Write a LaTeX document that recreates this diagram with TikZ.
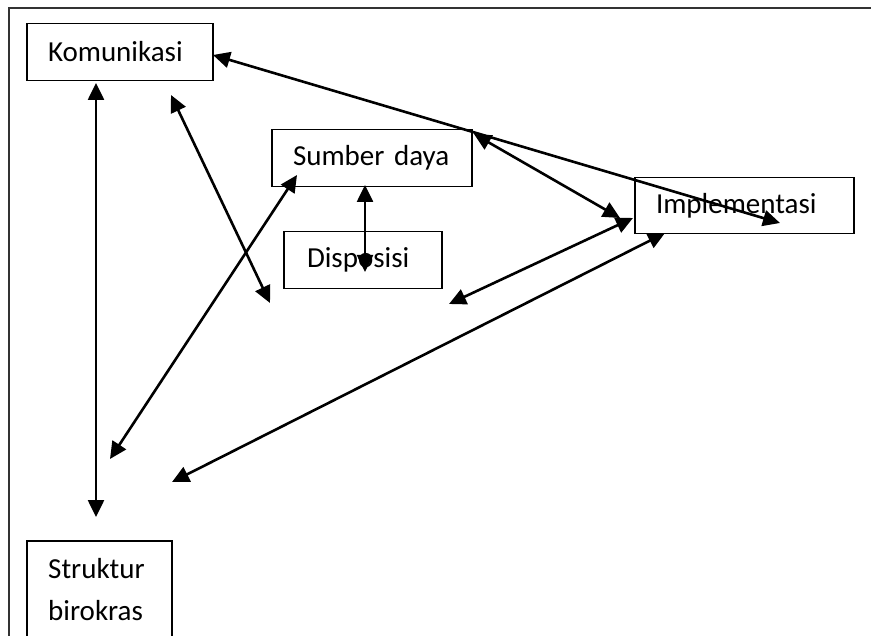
\documentclass[tikz,border=0pt]{standalone}
\usepackage{fontspec}
\setmainfont{Carlito}
\usetikzlibrary{arrows.meta}
\begin{document}
\begin{tikzpicture}[x=1pt,y=-1pt,
  lbl/.style={font=\fontsize{29}{42}\selectfont, align=left, inner xsep=21pt, inner ysep=0pt},
  box/.style={lbl, draw, line width=1.6pt},
  link/.style={line width=2.6pt, {Triangle[length=17pt,width=16pt]}-{Triangle[length=17pt,width=16pt]}}]
\clip (0,0) rectangle (871,636);
\fill[white] (0,0) rectangle (871,636);
\draw[line width=2pt, black!80] (9,640) -- (9,8) -- (875,8);
% boxes
\node[box, text width=144pt, minimum height=57pt] (kom) at (120,52) {Komunikasi};
\node[box, text width=158pt, minimum height=57pt] (sd) at (372,158) {\mbox{Sumber daya}};
\node[box, text width=112pt, inner xsep=23pt, minimum height=57pt] (dis) at (363,260) {Disposisi};
\node[box, text width=177pt, minimum height=56pt] (imp) at (744.5,205.5) {Implementasi};
\node[lbl, anchor=north west, inner xsep=0pt] (sb) at (48,558) {Struktur\\birokras};
\draw[line width=1.6pt] (27,541) rectangle (172,660);
% free arrow ends
\coordinate (k1) at (96,83);   \coordinate (s1) at (96,517);
\coordinate (k2) at (171,95);  \coordinate (c2) at (270,303);
\coordinate (d1) at (297,175); \coordinate (s2) at (110,459);
\coordinate (d2) at (365,185); \coordinate (p1) at (365,272);
\coordinate (d3) at (474,134); \coordinate (i1) at (620,218);
\coordinate (i2) at (633,218); \coordinate (c3) at (449,304);
\coordinate (i3) at (665,233); \coordinate (s3) at (172,482);
\coordinate (k3) at (213,55);  \coordinate (i4) at (780,223);
% connectors
\draw[link] (k1) -- (s1);
\draw[link] (k2) -- (c2);
\draw[link] (d1) -- (s2);
\draw[link] (d2) -- (p1);
\draw[link] (d3) -- (i1);
\draw[link] (i2) -- (c3);
\draw[link] (i3) -- (s3);
\draw[link] (k3) -- (i4);
\end{tikzpicture}
\end{document}
